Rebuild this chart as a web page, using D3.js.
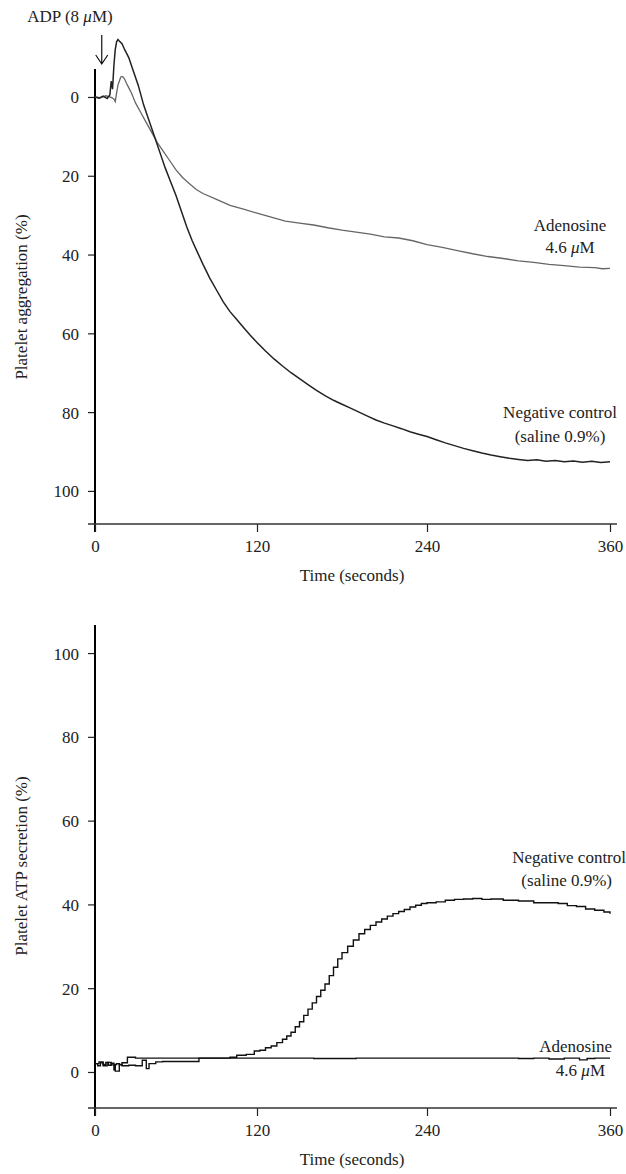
<!DOCTYPE html>
<html>
<head>
<meta charset="utf-8">
<script src="https://cdn.jsdelivr.net/npm/d3@7"></script>
<style>
  body { margin: 0; background: #fff; }
  svg text { font-family: "Liberation Serif", "Times New Roman", "DejaVu Serif", serif; fill: #222; }
</style>
</head>
<body>
<script>
// ticks
var timeTicks = [0, 120, 240, 360];
var pctTicks = [0, 20, 40, 60, 80, 100];

// platelet aggregation (%) -- negative control (saline 0.9%)
var aggNegT = [0,3,6,9,11,12,13,14,15,16,17,18,20,22,25,28,32,36,40,44,48,52,56,60,64,68,72,76,80,85,90,95,100,105,110,115,120,126,132,138,144,150,156,162,168,174,180,186,192,198,204,210,216,222,228,234,240,246,252,258,264,270,276,282,288,294,300,306,312,318,324,330,336,342,348,354,360];
var aggNegV = [0,0.3,-0.2,0.4,-0.5,-4,-2,-8,-12,-14,-14.6,-14.2,-13.5,-12,-10,-7,-3,2,6,10,14,18,21.5,25,29,33,36.5,39.5,42.5,46,49,52,54.5,56.5,58.5,60.5,62.3,64.5,66.5,68.3,70,71.5,73,74.5,75.8,77,78,79,80,81,82,82.8,83.5,84.2,85,85.6,86.2,87,87.8,88.5,89.2,89.8,90.4,90.9,91.3,91.7,92,92.3,92.1,92.5,92.3,92.6,92.4,92.7,92.5,92.8,92.6];

// platelet aggregation (%) -- adenosine 4.6 uM
var aggAdoT = [0,4,8,12,14,15,16,17,18,19,20,21,22,24,27,30,34,38,42,46,50,55,60,65,70,75,80,90,100,110,120,130,140,150,160,170,180,190,200,210,220,230,240,250,260,270,280,290,300,310,320,330,340,350,355,360];
var aggAdoV = [0,0.2,-0.3,0.1,0.5,1.2,-1,-3,-4,-5,-5.2,-5,-4.5,-3,-1,1.5,4,6.5,9,11.5,13.5,16,18.5,20.5,22,23.5,24.5,26,27.5,28.5,29.5,30.5,31.5,32,32.5,33.2,33.8,34.3,34.8,35.5,35.8,36.5,37.5,38.2,39,39.8,40.5,41,41.6,42,42.5,42.8,43.2,43.3,43.6,43.5];

// platelet ATP secretion (%) -- negative control
var atpNegT = [0,2,4,6,8,10,12,14,15,16,18,20,24,30,40,50,60,70,80,90,100,105,112,118,122,126,130,134,138,141,144,147,150,153,156,159,162,165,168,171,174,177,180,184,188,192,196,200,204,208,212,216,220,224,228,232,236,240,246,252,258,264,270,276,282,290,300,310,320,326,332,338,344,350,356,360];
var atpNegV = [2,1.5,2.2,1.8,2.3,1.6,2.1,0.5,1.8,2,1.7,2.2,3.5,3.3,3.3,3.3,3.3,3.3,3.3,3.3,3.5,4,4.2,5,5.2,5.8,6.2,7,7.8,8.6,9.5,10.8,12,13.5,15,16.5,18,19.5,21,23,25,27,28.5,30,31.5,33,34,35,35.8,36.5,37.2,37.8,38.3,38.8,39.4,39.8,40.2,40.4,40.6,41,41.2,41.3,41.4,41.2,41.3,41,40.8,40.4,40.4,40.2,39.7,39.5,38.9,38.6,38.2,37.8];

// platelet ATP secretion (%) -- adenosine
var atpAdoT = [0,3,6,9,12,15,18,20,25,30,35,38,40,45,50,60,70,77,100,130,160,190,220,250,280,300,310,320,330,340,345,350,360];
var atpAdoV = [2,2.4,1.5,2.3,1.7,0.2,1.8,1.5,1.6,1.5,2.8,0.8,2,2.4,2.5,2.5,2.5,3.3,3.3,3.3,3.2,3.3,3.3,3.3,3.3,3.2,3.3,3.1,3.3,2.9,3.2,3.3,3.3];

function pairs(t, v) { return t.map(function(d, i) { return [d, v[i]]; }); }

var FONT = "Liberation Serif, Times New Roman, DejaVu Serif, serif";
var width = 626, height = 1174;
var svg = d3.select("body").append("svg")
    .attr("width", width)
    .attr("height", height)
    .attr("font-family", FONT);

// the printed time axis is not quite evenly spaced
var x = d3.scaleLinear().domain(timeTicks).range([95, 257, 427, 610]);

function label(sel, x0, y0, parts, anchor) {
  var t = sel.append("text")
      .attr("x", x0).attr("y", y0)
      .attr("text-anchor", anchor || "middle")
      .attr("font-family", FONT)
      .attr("font-size", 17)
      .attr("fill", "#222");
  parts.forEach(function(p) {
    t.append("tspan").attr("font-style", p.i ? "italic" : null).text(p.s);
  });
  return t;
}

function panel(opt) {
  // aggregation is drawn with 0 at the top, secretion with 0 at the bottom
  var range = opt.invert ? [opt.top, opt.bottom] : [opt.bottom, opt.top];
  var y = d3.scaleLinear().domain(opt.ydom).range(range);
  var g = svg.append("g");
  var axisY = opt.bottom;

  // y axis
  var ya = g.append("g")
      .attr("transform", "translate(95,0)")
      .attr("font-family", FONT)
      .call(d3.axisLeft(y).tickValues(pctTicks).tickSize(7).tickSizeOuter(0));
  ya.select(".domain").remove();
  ya.selectAll("line").attr("stroke", "#222").attr("stroke-width", 1.2);
  ya.selectAll("text").attr("x", -16).attr("dy", "0.35em")
      .attr("font-family", FONT).attr("font-size", 17).attr("fill", "#222");
  g.append("line").attr("x1", 95).attr("x2", 95)
      .attr("y1", opt.top).attr("y2", axisY + 8)
      .attr("stroke", "#000").attr("stroke-width", 2);

  // x axis
  var xa = g.append("g")
      .attr("transform", "translate(0," + axisY + ")")
      .attr("font-family", FONT)
      .call(d3.axisBottom(x).tickValues(timeTicks).tickSize(8).tickSizeOuter(0));
  xa.select(".domain").remove();
  xa.selectAll("line").attr("stroke", "#222").attr("stroke-width", 1.2);
  xa.selectAll("text").attr("y", 16).attr("dy", "0.71em")
      .attr("font-family", FONT).attr("font-size", 17).attr("fill", "#222");
  g.append("line").attr("x1", 88).attr("x2", 617)
      .attr("y1", axisY).attr("y2", axisY)
      .attr("stroke", "#333").attr("stroke-width", 1.5);

  label(g, 352, axisY + 57, [{s: "Time (seconds)"}]);

  label(g, 0, 0, [{s: opt.title}])
      .attr("x", null).attr("y", null)
      .attr("transform", "translate(27," + opt.titleY + ") rotate(-90)");

  var line = d3.line()
      .x(function(d) { return x(d[0]); })
      .y(function(d) { return y(d[1]); })
      .curve(opt.curve);

  opt.series.forEach(function(s) {
    g.append("path")
        .datum(pairs(s.t, s.v))
        .attr("fill", "none")
        .attr("stroke", s.color)
        .attr("stroke-width", s.w)
        .attr("d", line);
  });

  opt.notes.forEach(function(n) {
    label(g, n.x, n.y, n.parts, n.anchor);
  });
  return y;
}

panel({
  ydom: [-7.1, 108.4], bottom: 524, top: 69, invert: true,
  title: "Platelet aggregation (%)", titleY: 297,
  curve: d3.curveLinear,
  series: [
    {t: aggAdoT, v: aggAdoV, color: "#666", w: 1.3},
    {t: aggNegT, v: aggNegV, color: "#222", w: 1.5}
  ],
  notes: [
    {x: 570, y: 231, parts: [{s: "Adenosine"}]},
    {x: 570, y: 253, parts: [{s: "4.6 "}, {s: "\u03bc", i: true}, {s: "M"}]},
    {x: 560, y: 418, parts: [{s: "Negative control"}]},
    {x: 560, y: 442, parts: [{s: "(saline 0.9%)"}]}
  ]
});

panel({
  ydom: [-8.6, 106.7], bottom: 1108, top: 625, invert: false,
  title: "Platelet ATP secretion (%)", titleY: 866,
  curve: d3.curveStepAfter,
  series: [
    {t: atpAdoT, v: atpAdoV, color: "#111", w: 1.4},
    {t: atpNegT, v: atpNegV, color: "#111", w: 1.4}
  ],
  notes: [
    {x: 626, y: 863, anchor: "end", parts: [{s: "Negative control"}]},
    {x: 612, y: 886, anchor: "end", parts: [{s: "(saline 0.9%)"}]},
    {x: 612, y: 1052, anchor: "end", parts: [{s: "Adenosine"}]},
    {x: 605, y: 1076, anchor: "end", parts: [{s: "4.6 "}, {s: "\u03bc", i: true}, {s: "M"}]}
  ]
});

// ADP addition marker
label(svg, 70, 22, [{s: "ADP (8 "}, {s: "\u03bc", i: true}, {s: "M)"}]);
var ax = x(5);
svg.append("path")
    .attr("d", "M" + ax + ",35 L" + ax + ",64 M" + (ax - 6) + ",55 L" + ax + ",64 L" + (ax + 6) + ",55")
    .attr("fill", "none").attr("stroke", "#111").attr("stroke-width", 1.2);
</script>
</body>
</html>
